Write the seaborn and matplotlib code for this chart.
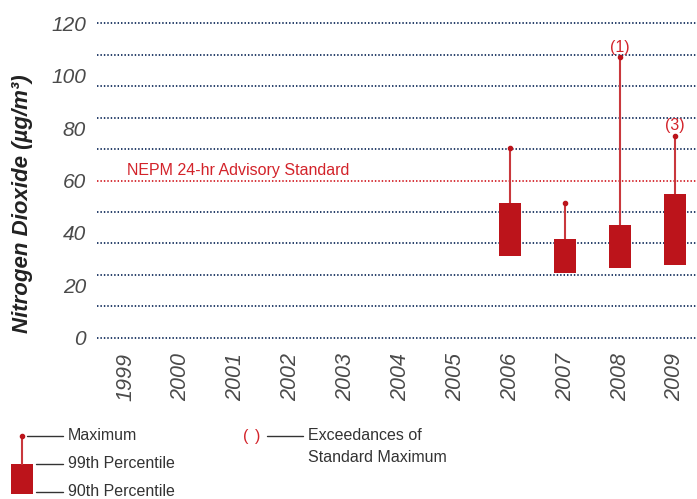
import numpy as np
import pandas as pd
import seaborn as sns
import matplotlib.pyplot as plt
from matplotlib.lines import Line2D
from matplotlib.patches import Rectangle

# data
years = [str(y) for y in range(1999, 2010)]
data_years = ["2006", "2007", "2008", "2009"]
p90 = [31.0, 24.8, 26.7, 27.7]
p99 = [51.5, 37.7, 43.0, 54.8]
p_max = [72.5, 51.3, 107.0, 77.0]
exceed_years = ["2008", "2009"]
exceed_labels = ["(1)", "(3)"]
standard = 60

box_red = "#bc141b"
whisk_red = "#c9383d"
text_red = "#d3232a"
navy = "#16305e"
gray = "#333333"

sns.set_theme(style="white")
plt.rcParams['font.family'] = ['Liberation Sans', 'DejaVu Sans']

W, H = 697, 499
def fx(px):
    return px / W
def fy(py):
    return (H - py) / H

fig = plt.figure(figsize=(W / 100, H / 100), dpi=100)
ax = fig.add_axes([fx(97), fy(337.7), 1 - fx(97), (337.7 - 23.3) / H])

df = pd.DataFrame({"year": data_years, "p90": p90, "p99": p99, "max": p_max})
df["span"] = df["p99"] - df["p90"]

sns.barplot(data=df, x="year", y="span", order=years, bottom=df["p90"].values,
            width=0.4, color=box_red, saturation=1, errorbar=None,
            linewidth=0, ax=ax, zorder=3)

# whiskers up to the maximum
pos = [years.index(y) for y in data_years]
ax.vlines(pos, df["p99"], df["max"], color=whisk_red, lw=1.5, zorder=2)
ax.plot(pos, df["max"], "o", ms=3, color=box_red, zorder=4)

# dotted grid every 12, standard line in red
for v in np.arange(0, 121, 12):
    c = text_red if v == standard else navy
    ax.axhline(v, ls=(0, (0.8, 1.1)), lw=1.3, color=c, zorder=1, clip_on=False)

ax.text(0.015, 62, "NEPM 24-hr Advisory Standard", color=text_red,
        fontsize=11.5, va="baseline", ha="left")

for y, lab in zip(exceed_years, exceed_labels):
    i = years.index(y)
    ax.annotate(lab, (i, p_max[data_years.index(y)]), xytext=(0, 2),
                textcoords="offset points", ha="center", va="bottom",
                color=text_red, fontsize=11.5)

ax.set_xlim(-0.53, 10.4)
ax.set_ylim(0, 120)
ax.set_yticks(range(0, 121, 20))
ax.set_yticklabels([str(v) for v in range(0, 121, 20)], fontstyle="italic",
                   fontsize=15, color="#4a4a4a")
ax.set_xticks(range(len(years)))
ax.set_xticklabels(years, rotation=90, fontstyle="italic", fontsize=15.5,
                   color="#4a4a4a")
ax.tick_params(axis="y", length=0, pad=8)
ax.tick_params(axis="x", length=0, pad=11)
ax.set_xlabel("")
ax.set_ylabel("")
sns.despine(ax=ax, left=True, bottom=True)

fig.text(fx(23), fy(203.5), "Nitrogen Dioxide (µg/m³)", rotation=90,
         ha="center", va="center", fontsize=16, fontweight="bold",
         fontstyle="italic", color="#222222")

# legend drawn at the bottom
fig.add_artist(Line2D([fx(21.5), fx(21.5)], [fy(436), fy(464)], color=whisk_red, lw=1.5))
fig.add_artist(Line2D([fx(21.5)], [fy(436)], marker="o", ms=3, color=box_red))
fig.add_artist(Rectangle((fx(11), fy(494)), fx(33) - fx(11), fy(464) - fy(494),
                         color=box_red, lw=0))
leg_rows = [(27, 436, "Maximum"), (36, 464, "99th Percentile"), (36, 492, "90th Percentile")]
for x0, py, lab in leg_rows:
    fig.add_artist(Line2D([fx(x0), fx(63)], [fy(py), fy(py)], color=gray, lw=1))
    fig.text(fx(68), fy(py), lab, ha="left", va="center", fontsize=11.5, color=gray)

fig.text(fx(243), fy(436), "(", ha="left", va="center", fontsize=11.5, color=text_red)
fig.text(fx(255), fy(436), ")", ha="left", va="center", fontsize=11.5, color=text_red)
fig.add_artist(Line2D([fx(267), fx(303)], [fy(436), fy(436)], color=gray, lw=1))
fig.text(fx(308), fy(436), "Exceedances of", ha="left", va="center", fontsize=11.5, color=gray)
fig.text(fx(308), fy(457), "Standard Maximum", ha="left", va="center", fontsize=11.5, color=gray)

fig.savefig("out.png", dpi=100)
